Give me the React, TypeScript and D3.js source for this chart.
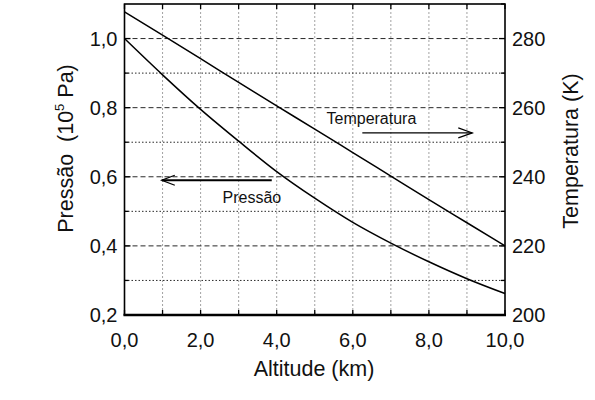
import { scaleLinear, line, curveMonotoneX, format } from 'd3'

const altitude = [0, 1, 2, 3, 4, 5, 6, 7, 8, 9, 10]
const pressure = [1.0, 0.895, 0.795, 0.703, 0.615, 0.538, 0.468, 0.408, 0.354, 0.305, 0.262]
const temperature = [287.7, 281.0, 274.2, 267.3, 260.5, 253.8, 247.0, 240.2, 233.4, 226.7, 220.0]

const xTicks = [0, 2, 4, 6, 8, 10]
const xMinor = [1, 2, 3, 4, 5, 6, 7, 8, 9]
const pTicks = [0.2, 0.4, 0.6, 0.8, 1.0]
const pMinor = [0.3, 0.5, 0.7, 0.9]
const pGridMajor = [0.4, 0.6, 0.8, 1.0]
const tTicks = [200, 220, 240, 260, 280]

const W = 595
const H = 400
const font = 'Arial, "Liberation Sans", sans-serif'

const comma = (f: string) => (v: number) => format(f)(v).replace('.', ',')

export default function App() {
  const x = scaleLinear().domain([0, 10]).range([124.5, 505])
  const yP = scaleLinear().domain([0.2, 1.1]).range([315, 4])
  const yT = scaleLinear().domain([200, 290]).range([315, 4])
  const [x0, x1] = x.range()
  const [yb, yt] = yP.range()

  const pts = altitude.map((a, i) => ({ a, p: pressure[i], t: temperature[i] }))
  const pPath = line<(typeof pts)[number]>().x((d) => x(d.a)).y((d) => yP(d.p)).curve(curveMonotoneX)(pts) ?? ''
  const tPath = line<(typeof pts)[number]>().x((d) => x(d.a)).y((d) => yT(d.t)).curve(curveMonotoneX)(pts) ?? ''

  const fx = comma('.1f')

  // annotation arrows, placed in data units
  const tArrow = { a0: 6.25, a1: 9.14, v: 252.7 }
  const pArrow = { a0: 0.98, a1: 3.87, v: 0.59 }

  return (
    <svg width={W} height={H} style={{ position: 'absolute', left: 0, top: 0, background: '#fff' }} fontFamily={font}>
      {/* vertical grid */}
      {xMinor.map((v) => (
        <line key={'vx' + v} x1={x(v)} x2={x(v)} y1={yt} y2={yb} stroke="#8a8a8a" strokeWidth={0.8} strokeDasharray="2,2" />
      ))}
      {/* horizontal grid */}
      {pMinor.map((v) => (
        <line key={'hm' + v} x1={x0} x2={x1} y1={yP(v)} y2={yP(v)} stroke="#111" strokeWidth={0.9} strokeDasharray="1.5,2" />
      ))}
      {pGridMajor.map((v) => (
        <line key={'hM' + v} x1={x0} x2={x1} y1={yP(v)} y2={yP(v)} stroke="#111" strokeWidth={0.9} strokeDasharray="5,3" />
      ))}

      {/* curves */}
      <path d={pPath} fill="none" stroke="#000" strokeWidth={1.5} />
      <path d={tPath} fill="none" stroke="#000" strokeWidth={1.5} />

      {/* frame */}
      <rect x={x0} y={yt} width={x1 - x0} height={yb - yt} fill="none" stroke="#000" strokeWidth={1.6} />
      <line x1={x0 - 1} x2={x1 + 1} y1={yb} y2={yb} stroke="#000" strokeWidth={2.4} />

      {/* ticks (inward) */}
      {altitude.map((v) => (
        <g key={'xt' + v}>
          <line x1={x(v)} x2={x(v)} y1={yb} y2={yb - 5} stroke="#000" strokeWidth={1.3} />
          <line x1={x(v)} x2={x(v)} y1={yt} y2={yt + 5} stroke="#000" strokeWidth={1.3} />
        </g>
      ))}
      {pTicks.map((v) => (
        <line key={'pt' + v} x1={x0} x2={x0 + 6} y1={yP(v)} y2={yP(v)} stroke="#000" strokeWidth={1.3} />
      ))}
      {pMinor.map((v) => (
        <line key={'pm' + v} x1={x0} x2={x0 + 4} y1={yP(v)} y2={yP(v)} stroke="#000" strokeWidth={1.3} />
      ))}
      {tTicks.map((v) => (
        <line key={'tt' + v} x1={x1} x2={x1 - 6} y1={yT(v)} y2={yT(v)} stroke="#000" strokeWidth={1.3} />
      ))}
      {tTicks.map((v) => (
        <line key={'tm' + v} x1={x1} x2={x1 - 4} y1={yT(v + 10)} y2={yT(v + 10)} stroke="#000" strokeWidth={1.3} />
      ))}

      {/* tick labels */}
      {xTicks.map((v) => (
        <text key={'xl' + v} x={x(v)} y={346.5} textAnchor="middle" fontSize={20} fill="#111">
          {fx(v)}
        </text>
      ))}
      {pTicks.map((v) => (
        <text key={'pl' + v} x={117.5} y={yP(v) + 7} textAnchor="end" fontSize={20} fill="#111">
          {fx(v)}
        </text>
      ))}
      {tTicks.map((v) => (
        <text key={'tl' + v} x={512} y={yT(v) + 7} textAnchor="start" fontSize={20} fill="#111">
          {v}
        </text>
      ))}

      {/* axis titles */}
      <text x={314} y={376} textAnchor="middle" fontSize={21.5} fill="#111">
        Altitude (km)
      </text>
      <text transform="translate(73,148.5) rotate(-90)" textAnchor="middle" fontSize={21.5} fill="#111" style={{ whiteSpace: 'pre' }}>
        {'Pressão  (10'}
        <tspan fontSize={13} dy={-9}>5</tspan>
        <tspan dy={9}>{' Pa)'}</tspan>
      </text>
      <text transform="translate(578,151) rotate(-90)" textAnchor="middle" fontSize={21.5} fill="#111">
        Temperatura (K)
      </text>

      {/* annotations */}
      <text x={326.5} y={124.3} fontSize={16} fill="#111">Temperatura</text>
      <line x1={x(tArrow.a0)} x2={x(tArrow.a1)} y1={yT(tArrow.v)} y2={yT(tArrow.v)} stroke="#000" strokeWidth={1.3} />
      <polyline
        points={`${x(tArrow.a1) - 14},${yT(tArrow.v) - 5} ${x(tArrow.a1)},${yT(tArrow.v)} ${x(tArrow.a1) - 14},${yT(tArrow.v) + 5}`}
        fill="none"
        stroke="#000"
        strokeWidth={1.2}
      />
      <text x={222.5} y={202.7} fontSize={16} fill="#111">Pressão</text>
      <line x1={x(pArrow.a0)} x2={x(pArrow.a1)} y1={yP(pArrow.v)} y2={yP(pArrow.v)} stroke="#000" strokeWidth={2} />
      <polyline
        points={`${x(pArrow.a0) + 13},${yP(pArrow.v) - 5} ${x(pArrow.a0)},${yP(pArrow.v)} ${x(pArrow.a0) + 13},${yP(pArrow.v) + 5}`}
        fill="none"
        stroke="#000"
        strokeWidth={1.3}
      />
    </svg>
  )
}
